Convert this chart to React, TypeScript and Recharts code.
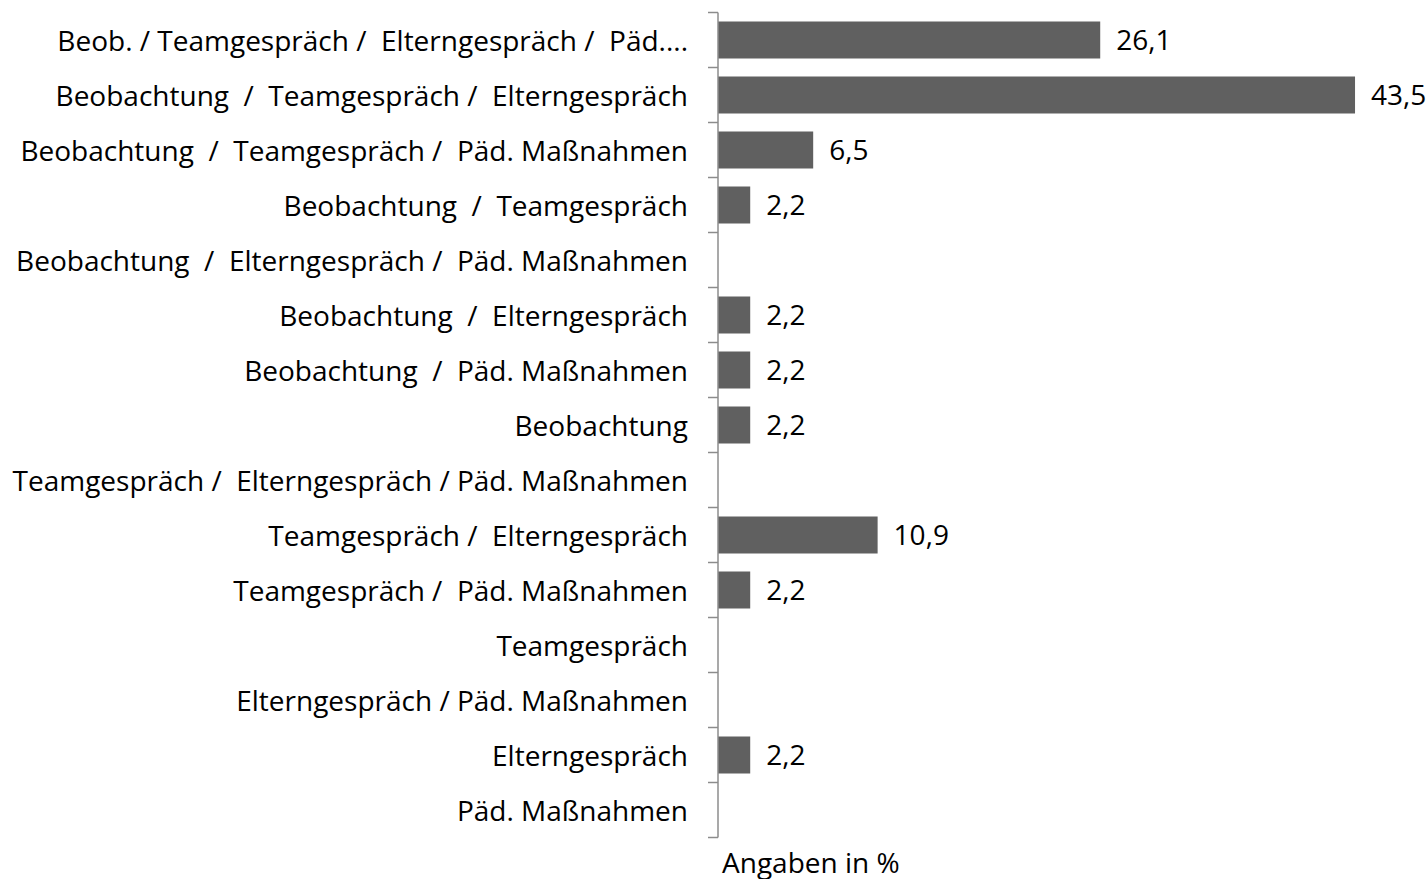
import React from 'react';
import { BarChart, Bar, XAxis, YAxis, LabelList } from 'recharts';

const categories: string[] = [
  'Beob. / Teamgespräch /  Elterngespräch /  Päd....',
  'Beobachtung  /  Teamgespräch /  Elterngespräch',
  'Beobachtung  /  Teamgespräch /  Päd. Maßnahmen',
  'Beobachtung  /  Teamgespräch',
  'Beobachtung  /  Elterngespräch /  Päd. Maßnahmen',
  'Beobachtung  /  Elterngespräch',
  'Beobachtung  /  Päd. Maßnahmen',
  'Beobachtung',
  'Teamgespräch /  Elterngespräch / Päd. Maßnahmen',
  'Teamgespräch /  Elterngespräch',
  'Teamgespräch /  Päd. Maßnahmen',
  'Teamgespräch',
  'Elterngespräch / Päd. Maßnahmen',
  'Elterngespräch',
  'Päd. Maßnahmen',
];
const values: (number | null)[] = [26.1, 43.5, 6.5, 2.2, null, 2.2, 2.2, 2.2, null, 10.9, 2.2, null, null, 2.2, null];
const axisTitle = 'Angaben in %';

const data = categories.map((c, i) => ({ name: c, value: values[i] }));

const FONT = '"Open Sans", sans-serif';
const AXIS_COLOR = '#8c8c8c';
const BAND = 55;

const CatTick = (props: any) => {
  const { x, y, payload, index } = props;
  const last = index === categories.length - 1;
  return (
    <g>
      <line x1={x + 20} x2={x + 30} y1={y - BAND / 2} y2={y - BAND / 2} stroke={AXIS_COLOR} strokeWidth={1.5} />
      {last && <line x1={x + 20} x2={x + 30} y1={y + BAND / 2} y2={y + BAND / 2} stroke={AXIS_COLOR} strokeWidth={1.5} />}
      <text x={x} y={y} dy={11} textAnchor="end" fontFamily={FONT} fontSize={28} fill="#000" style={{ whiteSpace: 'pre' }}>
        {payload.value}
      </text>
    </g>
  );
};

const fmt = (v: any) => (v == null ? '' : String(v).replace('.', ','));

export default function App() {
  return (
    <div style={{ position: 'absolute', left: 0, top: 0, width: 1426, height: 879, background: '#fff' }}>
      <BarChart
        width={1426}
        height={879}
        data={data}
        layout="vertical"
        margin={{ top: 12.5, right: 49, bottom: 41.5, left: 0 }}
        barSize={37}
      >
        <XAxis type="number" domain={[0, 45]} hide />
        <YAxis
          type="category"
          dataKey="name"
          width={718}
          tickLine={false}
          axisLine={{ stroke: AXIS_COLOR, strokeWidth: 1.5 }}
          tickMargin={24}
          tick={<CatTick />}
          interval={0}
        />
        <Bar dataKey="value" fill="#606060" isAnimationActive={false}>
          <LabelList
            dataKey="value"
            position="right"
            offset={16}
            formatter={fmt}
            style={{ fontFamily: FONT, fontSize: 28, fill: '#000' }}
          />
        </Bar>
      </BarChart>
      <div style={{ position: 'absolute', left: 722, top: 843, fontFamily: FONT, fontSize: 28, color: '#000', whiteSpace: 'nowrap' }}>
        {axisTitle}
      </div>
    </div>
  );
}
